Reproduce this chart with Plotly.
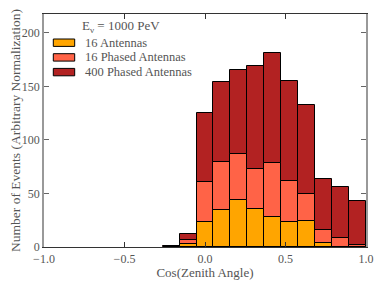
import plotly.graph_objects as go

# 19 equal bins on [-1, 1]
bin_edges = [-1 + 2 * k / 19 for k in range(20)]
bin_centers = [(bin_edges[i] + bin_edges[i + 1]) / 2 for i in range(19)]

counts_400_phased = [None]*7 + [0.6, 11.8, 125.2, 154.4, 165.0, 169.3, 181.4, 155.3, 133.0, 63.1, 56.2, 43.2]
counts_16_phased  = [None]*8 + [6.5, 60.3, 79.5, 86.4, 72.4, 78.0, 61.2, 49.1, 15.8, 8.1, 2.2]
counts_16_ant     = [None]*8 + [2.5, 23.0, 34.5, 43.8, 35.4, 28.0, 23.6, 23.9, 3.4, 0.4, None]

series = [
    ("400 Phased Antennas", counts_400_phased, "#B22222"),
    ("16 Phased Antennas", counts_16_phased, "#FF6347"),
    ("16 Antennas", counts_16_ant, "#FFA500"),
]
legend_title = "E<sub>ν</sub> = 1000 PeV"

font = "Liberation Serif"
OFF = 8  # default page body margin
W, H = 382 - OFF, 286 - OFF
L, R, T, B = 44 - OFF, 16, 14 - OFF, 39
pw, ph = W - L - R, H - T - B

def px(x):  # window pixel -> paper
    return (x - OFF - L) / pw

def py(y):
    return (OFF + H - B - y) / ph

fig = go.Figure()
for name, vals, col in series:
    fig.add_trace(go.Bar(
        x=bin_centers, y=vals, width=2 / 19, name=name,
        marker=dict(color=col, line=dict(color="black", width=1)),
        showlegend=False,
    ))

# manual legend (matplotlib style)
shapes, annotations = [], []
legend_rows = list(reversed(series))
for i, (name, vals, col) in enumerate(legend_rows):
    yc = 42.7 + 14.7 * i
    shapes.append(dict(type="rect", xref="paper", yref="paper",
                       x0=px(53.3), x1=px(74.7), y0=py(yc - 3.7), y1=py(yc + 3.7),
                       fillcolor=col, line=dict(color="black", width=1)))
    annotations.append(dict(xref="paper", yref="paper", x=px(83), y=py(yc),
                            xanchor="left", yanchor="middle", showarrow=False,
                            text=name, font=dict(family=font, size=12.5, color="#555")))
annotations.append(dict(xref="paper", yref="paper", x=px(80), y=py(26),
                        xanchor="left", yanchor="middle", showarrow=False,
                        text=legend_title, font=dict(family=font, size=13, color="#555")))

axis_common = dict(
    showline=True, mirror="ticks",
    ticks="inside", ticklen=5, showgrid=False, zeroline=False,
    tickfont=dict(family=font, size=12, color="#555"), automargin=False,
)
fig.update_layout(
    width=W, height=H,
    margin=dict(l=L, r=R, t=T, b=B),
    paper_bgcolor="white", plot_bgcolor="white",
    barmode="overlay", bargap=0,
    font=dict(family=font, color="#555"),
    xaxis=dict(range=[-1, 1], tickvals=[-1, -0.5, 0, 0.5, 1],
               ticktext=["\u22121.0", "\u22120.5", "0.0", "0.5", "1.0"],
               linecolor="#333", linewidth=1.2, tickcolor="#333",
               title=dict(text="Cos(Zenith Angle)", font=dict(family=font, size=13, color="#555"), standoff=2),
               **axis_common),
    yaxis=dict(range=[0, 217.5], tickvals=[0, 50, 100, 150, 200],
               linecolor="#999", linewidth=1.6, tickcolor="#666",
               title=dict(text="Number of Events (Arbitrary Normalization)", font=dict(family=font, size=13.5, color="#555"), standoff=4),
               **axis_common),
    shapes=shapes, annotations=annotations,
    showlegend=False,
)
fig.write_html("out.html")
